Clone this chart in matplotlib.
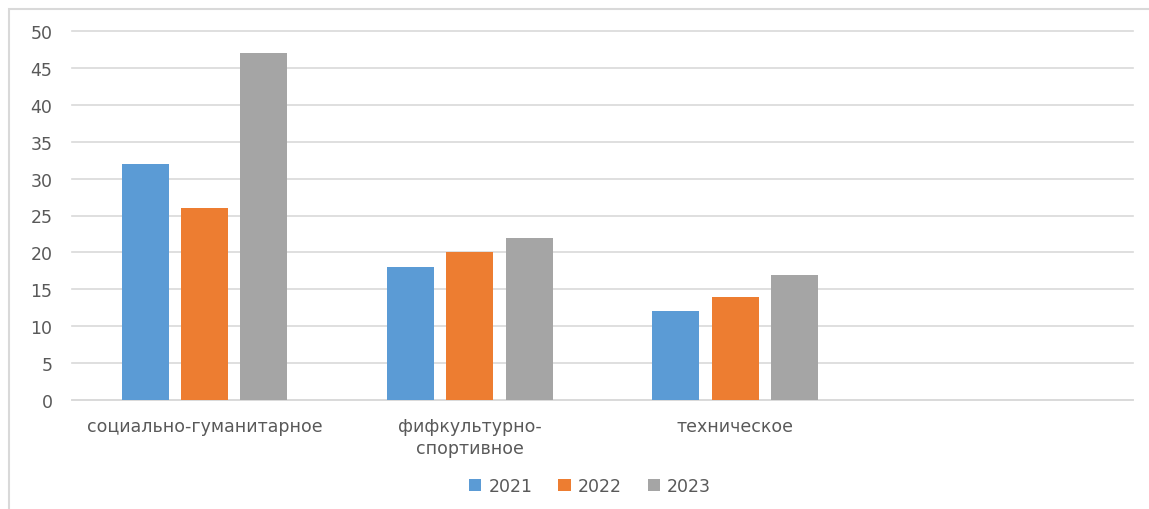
import numpy as np
import matplotlib.pyplot as plt
from matplotlib.patches import Rectangle

categories = ["социально-гуманитарное", "фифкультурно-\nспортивное", "техническое", ""]
years = ["2021", "2022", "2023"]
v2021 = [32, 18, 12]
v2022 = [26, 20, 14]
v2023 = [47, 22, 17]
colors = ["#5B9BD5", "#ED7D31", "#A5A5A5"]

plt.rcParams['font.family'] = ['DejaVu Sans']

fig = plt.figure(figsize=(11.49, 5.10), dpi=100)
ax = fig.add_axes([72 / 1149, 1 - 401 / 510, (1133 - 72) / 1149, (401 - 32) / 510])

# outer chart frame (cut off at right and bottom in the reference)
fig.patches.append(Rectangle((9 / 1149, -0.1), 1.2, 1 - 10 / 510 + 0.1,
                             transform=fig.transFigure, fill=False,
                             edgecolor="#D9D9D9", linewidth=1.5))

x = np.arange(len(categories[:3]))
width = 0.177
step = 0.223
for i, (vals, lab, c) in enumerate(zip([v2021, v2022, v2023], years, colors)):
    ax.bar(x + (i - 1) * step, vals, width, color=c, label=lab, zorder=3)

ax.set_xlim(-0.5, 3.5)
ax.set_ylim(0, 50)
ax.set_yticks(np.arange(0, 51, 5))
ax.set_xticks(np.arange(4))
ax.set_xticklabels(categories, linespacing=1.3)
ax.tick_params(axis="both", length=0, labelsize=12.5, labelcolor="#595959")
ax.tick_params(axis="x", pad=12)
ax.tick_params(axis="y", pad=14)
ax.grid(axis="y", color="#D9D9D9", linewidth=1.2, zorder=0)
for gl in ax.get_ygridlines():
    gl.set_clip_on(False)
for s in ["top", "right", "left"]:
    ax.spines[s].set_visible(False)
ax.spines["bottom"].set_color("#D9D9D9")
ax.spines["bottom"].set_linewidth(1.2)

leg = fig.legend(loc="center", bbox_to_anchor=(590 / 1149, 1 - 487 / 510), ncol=3,
                 frameon=False, fontsize=12.5, handlelength=0.7, handleheight=0.7,
                 handletextpad=0.4, columnspacing=1.5)
for t in leg.get_texts():
    t.set_color("#595959")

fig.savefig("out.png", dpi=100)
